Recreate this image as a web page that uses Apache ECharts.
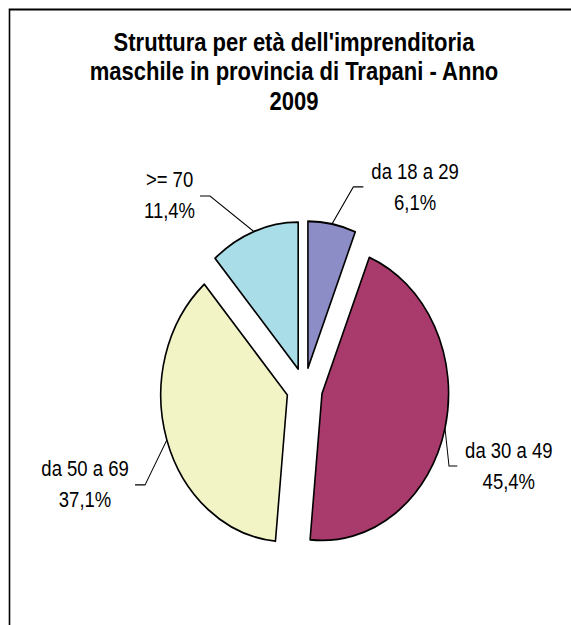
<!DOCTYPE html>
<html>
<head>
<meta charset="utf-8">
<script src="https://cdn.jsdelivr.net/npm/echarts@6/dist/echarts.min.js"></script>
<style>
  html, body { margin: 0; padding: 0; background: #fff; overflow: hidden; width: 571px; height: 625px; }
  /* the reference picture is stretched vertically (its pie is an ellipse) */
  #chart { width: 571px; height: 539px; transform: scaleY(1.16); transform-origin: 0 0; }
</style>
</head>
<body>
<div id="chart"></div>
<script>
// ---- data ----
const categories = ['da 18 a 29', 'da 30 a 49', 'da 50 a 69', '>= 70'];
const shares = [6.1, 45.4, 37.1, 11.4];
const titleLines = ["Struttura per età dell'imprenditoria", 'maschile in provincia di Trapani - Anno', '2009'];

// ---- styles / layout ----
const sliceColors = ['#8C8CC6', '#A83A6C', '#F2F4C6', '#A9DDE7'];
const pieCenter = [304.5, 335];
const pieRadius = 126.6;
const explode = 18;
// label centre and leader end, relative to the leader anchor on the slice edge
const labelOffsets = [[83, -32], [63.8, 32.2], [-81.8, 38.3], [-84.3, -31.7]];
const leaderEnds = [[31.3, -32], [12.3, 32.5], [-31.8, 38.8], [-53.8, -30.6]];
const elbowLens = [10, 8.3, 10, 10];

const fmtPct = v => v.toFixed(1).replace('.', ',') + '%';
const total = shares.reduce((a, b) => a + b, 0);

const series = [];
let cum = 0;
categories.forEach((name, k) => {
  const a0 = cum / total * 360;
  cum += shares[k];
  const a1 = cum / total * 360;
  const mid = (a0 + a1) / 2 * Math.PI / 180;
  const center = [pieCenter[0] + explode * Math.sin(mid), pieCenter[1] - explode * Math.cos(mid)];
  series.push({
    type: 'pie',
    name: name,
    center: center,
    radius: [0, pieRadius],
    startAngle: 90,
    clockwise: true,
    avoidLabelOverlap: false,
    silent: true,
    animation: false,
    emphasis: { disabled: true },
    label: {
      show: true,
      color: '#000',
      fontFamily: 'Liberation Sans, Arial, sans-serif',
      fontSize: 18.5,
      lineHeight: 26.6,
      formatter: p => p.name + '\n' + fmtPct(p.value)
    },
    labelLine: { show: true, smooth: false, lineStyle: { color: '#000', width: 1 } },
    labelLayout: function (p) {
      if (p.dataIndex !== k || !p.labelLinePoints) return {};
      const anc = p.labelLinePoints[0];
      const off = labelOffsets[k];
      const end = [anc[0] + leaderEnds[k][0], anc[1] + leaderEnds[k][1]];
      const dir = leaderEnds[k][0] >= 0 ? -1 : 1;
      const elbow = [end[0] + dir * elbowLens[k], end[1]];
      return {
        x: anc[0] + off[0],
        y: anc[1] + off[1],
        align: 'center',
        verticalAlign: 'middle',
        labelLinePoints: [anc, elbow, end]
      };
    },
    data: categories.map((n, i) => ({
      name: n,
      value: shares[i],
      itemStyle: i === k
        ? { color: sliceColors[i], borderColor: '#000', borderWidth: 1.6 }
        : { color: 'rgba(0,0,0,0)', borderWidth: 0 },
      label: { show: i === k },
      labelLine: { show: i === k }
    }))
  });
});

const chart = echarts.init(document.getElementById('chart'), null, { renderer: 'svg' });
chart.setOption({
  backgroundColor: '#fff',
  animation: false,
  title: {
    text: titleLines.join('\n'),
    left: 294,
    top: 23,
    textAlign: 'center',
    padding: 0,
    textStyle: {
      fontFamily: 'Liberation Sans, Arial, sans-serif',
      fontWeight: 'bold',
      fontSize: 22,
      lineHeight: 25.5,
      color: '#000'
    }
  },
  graphic: [{
    type: 'rect',
    silent: true,
    z: -10,
    shape: { x: 9.5, y: 8.2, width: 1000, height: 1000 },
    style: { fill: 'none', stroke: '#000', lineWidth: 1.6 }
  }],
  series: series
});
</script>
</body>
</html>
